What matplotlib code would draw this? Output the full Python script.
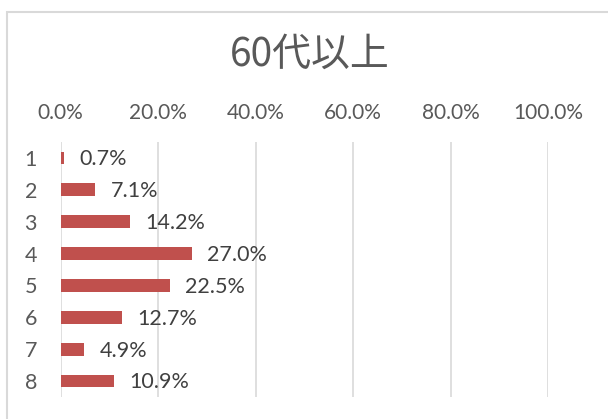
import matplotlib
matplotlib.use("Agg")
import matplotlib.pyplot as plt
from matplotlib.patches import Rectangle
from matplotlib.ticker import MultipleLocator, FuncFormatter

plt.rcParams['font.family'] = ['Lato', 'Noto Sans CJK JP', 'DejaVu Sans']

# answer shares for the 60+ age group
categories = ["1", "2", "3", "4", "5", "6", "7", "8"]
shares = [0.7, 7.1, 14.2, 27.0, 22.5, 12.7, 4.9, 10.9]
title = "60代以上"

bar_color = "#C0504D"
grid_color = "#D9D9D9"
text_gray = "#595959"

W, H = 608, 419
fig = plt.figure(figsize=(W / 100, H / 100), dpi=100)

# outer chart frame, running off the right and bottom edges
fig.patches.append(Rectangle((7 / W, -0.1), 1.2, 1.1 - 12 / H,
                             transform=fig.transFigure, fill=False,
                             edgecolor=grid_color, linewidth=1.5))

ax = fig.add_axes([60.5 / W, 1 - 397 / H, (548 - 60.5) / W, (397 - 142) / H])

ypos = list(range(len(categories)))
ax.barh(ypos, shares, height=0.4, color=bar_color)
for y, v in zip(ypos, shares):
    ax.annotate(f"{v:.1f}%", (v, y), xytext=(11, -1), textcoords="offset points",
                va="center", ha="left", fontsize=15.5, color="#404040")

ax.set_xlim(0, 100)
ax.set_ylim(len(categories) - 0.5, -0.5)
ax.set_yticks(ypos)
ax.set_yticklabels(categories, fontsize=15.5, color=text_gray)
ax.xaxis.set_major_locator(MultipleLocator(20))
ax.xaxis.set_major_formatter(FuncFormatter(lambda x, pos: f"{x:.1f}%"))
ax.xaxis.tick_top()
ax.tick_params(axis="x", length=0, pad=14, labelsize=15, labelcolor=text_gray)
ax.tick_params(axis="y", length=0, pad=17)
ax.xaxis.grid(True, color=grid_color, linewidth=1.2)
ax.set_axisbelow(True)
for s in ax.spines.values():
    s.set_visible(False)

fig.text(310 / W, 1 - 55 / H, title, ha="center", va="center", fontsize=28,
         color=text_gray, family=['Noto Sans CJK JP', 'DejaVu Sans'])

fig.savefig("out.png", dpi=100)
